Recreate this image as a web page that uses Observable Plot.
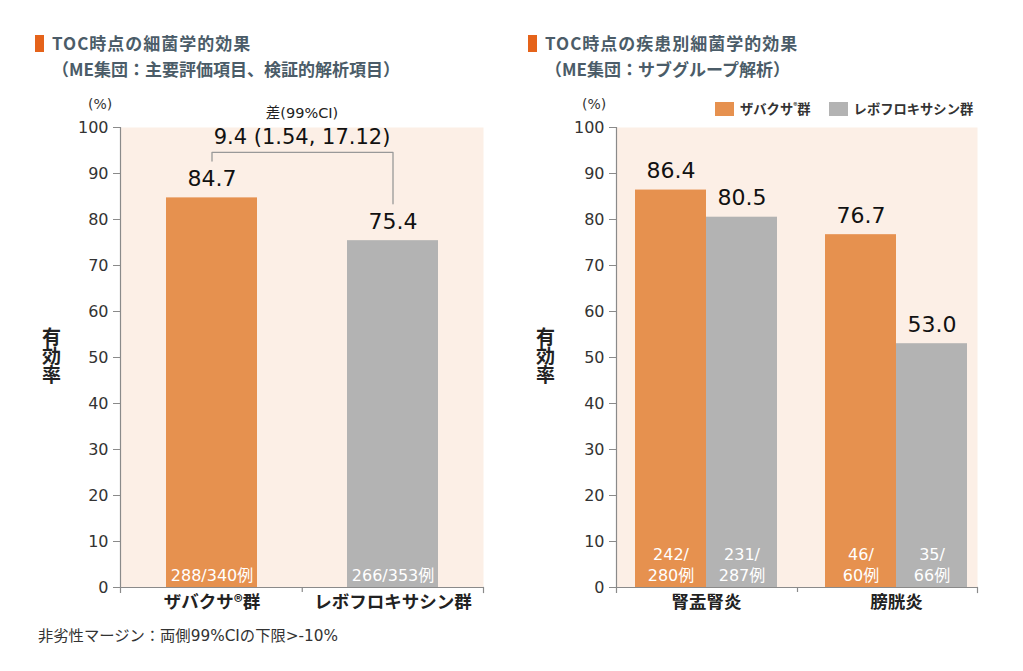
<!DOCTYPE html>
<html>
<head>
<meta charset="utf-8">
<script src="https://cdn.jsdelivr.net/npm/d3@7"></script>
<script src="https://cdn.jsdelivr.net/npm/@observablehq/plot@0.6"></script>
<style>
  html, body { margin: 0; padding: 0; background: #fff; }
  body { width: 1023px; height: 671px; position: relative; overflow: hidden;
         font-family: "Noto Sans CJK JP", "Noto Sans", sans-serif; color: #222; }
  .abs { position: absolute; }
  .title { font-size: 17px; font-weight: bold; color: #4b5c68; line-height: 26px; white-space: nowrap; }
  .title .l1 { letter-spacing: 1px; }
  .sq { position: absolute; width: 9px; height: 17px; background: #e5631a; }
  .unit { font-family: "DejaVu Sans", "Noto Sans CJK JP", sans-serif; font-size: 14px; color: #333; }
  .ylab { font-size: 19px; font-weight: bold; color: #222; writing-mode: vertical-rl; text-orientation: upright; line-height: 1; }
  .note { font-family: "DejaVu Sans", "Noto Sans CJK JP", sans-serif; font-size: 15.3px; color: #333; white-space: nowrap; }
  .legend { font-size: 13.3px; font-weight: bold; color: #333; white-space: nowrap; display: flex; align-items: center; }
  .legend .key { display: inline-block; width: 19px; height: 14px; margin-right: 6px; }
  .legend sup { font-size: 8px; vertical-align: 5px; }
  #left, #right { position: absolute; top: 0; }
</style>
</head>
<body>
<div class="sq" style="left:35px;top:35px"></div>
<div class="abs title" style="left:52px;top:30px"><span class="l1">TOC時点の細菌学的効果</span><br>（ME集団：主要評価項目、検証的解析項目）</div>
<div class="sq" style="left:528px;top:35px"></div>
<div class="abs title" style="left:545px;top:30px"><span class="l1">TOC時点の疾患別細菌学的効果</span><br>（ME集団：サブグループ解析）</div>

<div class="abs unit" style="left:88px;top:96px">(%)</div>
<div class="abs unit" style="left:582px;top:96px">(%)</div>
<div class="abs ylab" style="left:42px;top:327px">有効率</div>
<div class="abs ylab" style="left:536px;top:327px">有効率</div>

<div class="abs legend" style="left:715px;top:99px">
  <span class="key" style="background:#e6914f"></span><span>ザバクサ<sup>®</sup>群</span>
  <span class="key" style="background:#b3b3b3;margin-left:18px"></span><span>レボフロキサシン群</span>
</div>

<div class="abs note" style="left:38px;top:623px">非劣性マージン：両側99%CIの下限&gt;-10%</div>

<div id="left"></div>
<div id="right"></div>

<script>
// ---------- Data ----------
const groups = ["ザバクサ®群", "レボフロキサシン群"];
const groupRates = [84.7, 75.4];
const groupResponders = [288, 266];
const groupTotals = [340, 353];
const diffValue = 9.4;
const diffCI = [1.54, 17.12];

const diseases = ["腎盂腎炎", "膀胱炎"];
const zavRates = [86.4, 76.7];
const levoRates = [80.5, 53.0];
const zavResponders = [242, 46];
const zavTotals = [280, 60];
const levoResponders = [231, 35];
const levoTotals = [287, 66];

const yTicks = [0, 10, 20, 30, 40, 50, 60, 70, 80, 90, 100];

// ---------- Styles ----------
const ORANGE = "#e6914f", GRAY = "#b3b3b3", BG = "#fcefe6", AXIS = "#8a8a8a";
const FONT = "Noto Sans CJK JP, Noto Sans, sans-serif";
const NUMFONT = "DejaVu Sans, Noto Sans CJK JP, sans-serif";

// ---------- Left chart ----------
{
  const W = 505, H = 671, ml = 120, mr = 22, mt = 127, mb = 84;
  const pi = 0.5, po = 0.25;
  const plotW = W - ml - mr, plotH = H - mt - mb;
  const step = plotW / (groups.length - pi + 2 * po);
  const rows = groups.map((g, i) => ({group: g, rate: groupRates[i], n: `${groupResponders[i]}/${groupTotals[i]}例`}));
  const bracketTop = 94.6, bracketGap = 8;
  const bracket = [
    {x: groups[0], y: groupRates[0] + bracketGap},
    {x: groups[0], y: bracketTop},
    {x: groups[1], y: bracketTop},
    {x: groups[1], y: groupRates[1] + bracketGap}
  ];
  const chart = Plot.plot({
    width: W, height: H, marginLeft: ml, marginRight: mr, marginTop: mt, marginBottom: mb,
    style: {fontFamily: FONT, fontSize: "15px", color: "#333", background: "transparent", overflow: "visible"},
    x: {type: "band", domain: groups, paddingInner: pi, paddingOuter: po, axis: null},
    y: {domain: [0, 100], axis: null},
    color: {domain: groups, range: [ORANGE, GRAY]},
    marks: [
      Plot.frame({fill: BG, stroke: "none"}),
      Plot.barY(rows, {x: "group", y: "rate", fill: "group"}),
      Plot.ruleY([0], {stroke: AXIS, strokeWidth: 1.2}),
      Plot.frame({anchor: "left", stroke: AXIS, strokeWidth: 1.2, insetBottom: -5}),
      Plot.frame({anchor: "right", stroke: AXIS, strokeWidth: 1.2, insetTop: plotH, insetBottom: -5}),
      Plot.ruleX([groups[1]], {dx: -step / 2, y1: 0, y2: 0, insetBottom: -5, stroke: AXIS, strokeWidth: 1.2}),
      Plot.axisY({ticks: yTicks, tickSize: 7, tickPadding: 5, fontSize: 16, fontFamily: NUMFONT, stroke: AXIS, fill: "#333", label: null}),
      Plot.axisX({tickSize: 0, tickPadding: 8, fontSize: 17.5, fontWeight: "bold", fill: "#222", label: null}),
      Plot.text(rows, {x: "group", y: "rate", text: d => d.rate.toFixed(1), dy: -19, fontSize: 22, fontFamily: NUMFONT, fill: "#111"}),
      Plot.text(rows, {x: "group", y: 0, text: "n", dy: -7, lineAnchor: "bottom", fontSize: 16, fontFamily: NUMFONT, fill: "#fff"}),
      Plot.line(bracket, {x: "x", y: "y", stroke: "#999", strokeWidth: 1.3, curve: "linear"}),
      Plot.text([`${diffValue} (${diffCI[0]}, ${diffCI[1]})`], {y: 100, dy: 10, frameAnchor: "middle", fontSize: 21, fontFamily: NUMFONT, fill: "#111"}),
      Plot.text(["差(99%CI)"], {y: 100, dy: -14, frameAnchor: "middle", fontSize: 14.5, fontFamily: NUMFONT, fill: "#222"})
    ]
  });
  document.getElementById("left").append(chart);
  document.getElementById("left").style.left = "0px";
}

// ---------- Right chart ----------
{
  const L = 500, W = 500, H = 671, ml = 116, mr = 23, mt = 127, mb = 84;
  const pi = 0.2526, po = 0.0763, align = 0.655;
  const plotW = W - ml - mr, plotH = H - mt - mb;
  const step = plotW / (diseases.length - pi + 2 * po);
  const bw = step * (1 - pi);
  const rows = diseases.map((d, i) => ({
    disease: d, zav: zavRates[i], levo: levoRates[i],
    zavN: `${zavResponders[i]}/\n${zavTotals[i]}例`,
    levoN: `${levoResponders[i]}/\n${levoTotals[i]}例`
  }));
  const chart = Plot.plot({
    width: W, height: H, marginLeft: ml, marginRight: mr, marginTop: mt, marginBottom: mb,
    style: {fontFamily: FONT, fontSize: "15px", color: "#333", background: "transparent", overflow: "visible"},
    x: {type: "band", domain: diseases, paddingInner: pi, paddingOuter: po, align, axis: null},
    y: {domain: [0, 100], axis: null},
    marks: [
      Plot.frame({fill: BG, stroke: "none"}),
      Plot.barY(rows, {x: "disease", y: "zav", fill: ORANGE, insetRight: bw / 2}),
      Plot.barY(rows, {x: "disease", y: "levo", fill: GRAY, insetLeft: bw / 2}),
      Plot.ruleY([0], {stroke: AXIS, strokeWidth: 1.2}),
      Plot.frame({anchor: "left", stroke: AXIS, strokeWidth: 1.2, insetBottom: -5}),
      Plot.frame({anchor: "right", stroke: AXIS, strokeWidth: 1.2, insetTop: plotH, insetBottom: -5}),
      Plot.ruleX([diseases[1]], {dx: -step / 2 - 4, y1: 0, y2: 0, insetBottom: -5, stroke: AXIS, strokeWidth: 1.2}),
      Plot.axisY({ticks: yTicks, tickSize: 7, tickPadding: 5, fontSize: 16, fontFamily: NUMFONT, stroke: AXIS, fill: "#333", label: null}),
      Plot.axisX({tickSize: 0, tickPadding: 8, fontSize: 17.5, fontWeight: "bold", fill: "#222", label: null}),
      Plot.text(rows, {x: "disease", y: "zav", text: d => d.zav.toFixed(1), dx: -bw / 4, dy: -19, fontSize: 22, fontFamily: NUMFONT, fill: "#111"}),
      Plot.text(rows, {x: "disease", y: "levo", text: d => d.levo.toFixed(1), dx: bw / 4, dy: -19, fontSize: 22, fontFamily: NUMFONT, fill: "#111"}),
      Plot.text(rows, {x: "disease", y: 0, text: "zavN", dx: -bw / 4, dy: -7, lineAnchor: "bottom", lineHeight: 1.3, fontSize: 16, fontFamily: NUMFONT, fill: "#fff"}),
      Plot.text(rows, {x: "disease", y: 0, text: "levoN", dx: bw / 4, dy: -7, lineAnchor: "bottom", lineHeight: 1.3, fontSize: 16, fontFamily: NUMFONT, fill: "#fff"})
    ]
  });
  const el = document.getElementById("right");
  el.append(chart);
  el.style.left = L + "px";
}
</script>
</body>
</html>
